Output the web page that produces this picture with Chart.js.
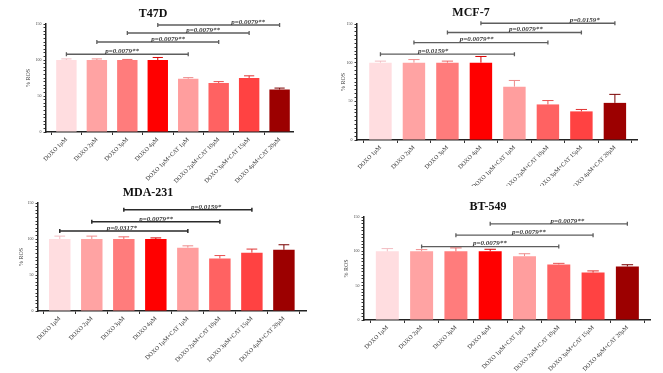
<!DOCTYPE html>
<html>
<head>
<meta charset="utf-8">
<script src="https://cdn.jsdelivr.net/npm/chart.js@4.4.1/dist/chart.umd.min.js"></script>
<style>
  body { margin: 0; background: #fff; width: 663px; height: 373px; overflow: hidden; position: relative; }
  canvas { position: absolute; }
</style>
</head>
<body>
<canvas id="t47d" width="331" height="186" style="left:0;top:0"></canvas>
<canvas id="mcf7" width="332" height="186" style="left:331px;top:0"></canvas>
<canvas id="mda231" width="331" height="187" style="left:0;top:186px"></canvas>
<canvas id="bt549" width="332" height="187" style="left:331px;top:186px"></canvas>
<script>
const categories = [
  "DOXO 1µM", "DOXO 2µM", "DOXO 3µM", "DOXO 4µM",
  "DOXO 1µM+CAT 1µM", "DOXO 2µM+CAT 10µM", "DOXO 3µM+CAT 15µM", "DOXO 4µM+CAT 20µM",
];
const yTicks = [0, 50, 100, 150];

// mean % ROS and SD per group
const t47dValues = [100, 100, 100, 100, 74, 68, 75, 59];
const t47dErrors = [1.5, 1.5, 0.8, 3.5, 1.5, 2, 3, 2];
const mcf7Values = [100, 100, 100, 100, 69, 46, 37, 48];
const mcf7Errors = [2, 4, 2, 8, 8, 5, 2.5, 11];
const mda231Values = [100, 100, 100, 100, 88, 73, 81, 85];
const mda231Errors = [4, 4, 3, 1.5, 2.5, 4, 5, 7];
const bt549Values = [100, 100, 100, 100, 93, 81, 69, 78];
const bt549Errors = [4, 2.5, 5, 3, 3.5, 1.5, 2.5, 2.5];

// significance brackets: [from, to, level, label position, text]
const t47dBrackets = [
  [0, 4, 108, 1.83, "p=0.0079**"],
  [1, 5, 125, 3.34, "p=0.0079**"],
  [2, 6, 137.5, 4.49, "p=0.0079**"],
  [3, 7, 148.6, 5.97, "p=0.0079**"],
];
const mcf7Brackets = [
  [0, 4, 111, 1.57, "p=0.0159*"],
  [1, 5, 126, 2.87, "p=0.0079**"],
  [2, 6, 139, 4.34, "p=0.0079**"],
  [3, 7, 151, 6.1, "p=0.0159*"],
];
const mda231Brackets = [
  [0, 4, 111, 1.94, "p=0.0317*"],
  [1, 5, 124, 3.01, "p=0.0079**"],
  [2, 6, 140.5, 4.57, "p=0.0159*"],
];
const bt549Brackets = [
  [1, 5, 107, 2.99, "p=0.0079**"],
  [2, 6, 123.5, 4.13, "p=0.0079**"],
  [3, 7, 140, 5.25, "p=0.0079**"],
];

const barColors = ["#FFDDE0", "#FFA3A3", "#FF7C7C", "#FF0000", "#FF9E9E", "#FF6262", "#FF4242", "#9C0000"];
const errorColors = ["#F2BCC2", "#F08C8C", "#EE6868", "#D80000", "#EE8A8A", "#E85050", "#E03232", "#7A0000"];

const SERIF = "'Liberation Serif', 'DejaVu Serif', serif";

const panels = [
  { id: "t47d", title: "T47D", titleX: 153, titleY: 14, values: t47dValues, errors: t47dErrors, brackets: t47dBrackets,
    pad: { left: 25, top: 24, right: 38, bottom: 0 }, yWidth: 21, xHeight: 54, xMin: -0.67, xMax: 7.44,
    lineColor: "#5e5e5e", lineWidth: 1.3 },
  { id: "mcf7", title: "MCF-7", titleX: 140, titleY: 13, values: mcf7Values, errors: mcf7Errors, brackets: mcf7Brackets,
    pad: { left: 9, top: 24, right: 26, bottom: 0 }, yWidth: 17, xHeight: 46, xMin: -0.7, xMax: 7.66,
    lineColor: "#5e5e5e", lineWidth: 1.3 },
  { id: "mda231", title: "MDA-231", titleX: 148, titleY: 7, values: mda231Values, errors: mda231Errors, brackets: mda231Brackets,
    pad: { left: 18, top: 17, right: 25, bottom: 0 }, yWidth: 20, xHeight: 62, xMin: -0.68, xMax: 7.69,
    lineColor: "#2a2a2a", lineWidth: 1.5 },
  { id: "bt549", title: "BT-549", titleX: 157, titleY: 21, values: bt549Values, errors: bt549Errors, brackets: bt549Brackets,
    pad: { left: 12, top: 31, right: 13, bottom: 0 }, yWidth: 21, xHeight: 53, xMin: -0.68, xMax: 7.66,
    lineColor: "#5e5e5e", lineWidth: 1.3 },
];

panels.forEach(renderPanel);

function renderPanel(panel) {
  const errorBars = {
    id: "errorBars",
    afterDatasetsDraw(chart) {
      const ctx = chart.ctx;
      const y = chart.scales.y;
      ctx.save();
      chart.getDatasetMeta(0).data.forEach((bar, i) => {
        const top = y.getPixelForValue(panel.values[i] + panel.errors[i]);
        const w = bar.width * 0.25;
        ctx.strokeStyle = errorColors[i];
        ctx.lineWidth = 1;
        ctx.beginPath();
        ctx.moveTo(bar.x, bar.y);
        ctx.lineTo(bar.x, top);
        ctx.moveTo(bar.x - w, top);
        ctx.lineTo(bar.x + w, top);
        ctx.stroke();
      });
      ctx.restore();
    },
  };

  const sigBars = {
    id: "sigBars",
    afterDraw(chart) {
      const ctx = chart.ctx;
      const x = chart.scales.x;
      const y = chart.scales.y;
      ctx.save();
      panel.brackets.forEach(([from, to, level, labelPos, text]) => {
        const x1 = x.getPixelForValue(from);
        const x2 = x.getPixelForValue(to);
        const yy = y.getPixelForValue(level);
        ctx.strokeStyle = panel.lineColor;
        ctx.lineWidth = panel.lineWidth;
        ctx.beginPath();
        ctx.moveTo(x1, yy);
        ctx.lineTo(x2, yy);
        ctx.moveTo(x1, yy - 2);
        ctx.lineTo(x1, yy + 2);
        ctx.moveTo(x2, yy - 2);
        ctx.lineTo(x2, yy + 2);
        ctx.stroke();
        ctx.fillStyle = "#3a3a3a";
        ctx.font = "italic bold 7px " + SERIF;
        ctx.textAlign = "center";
        ctx.textBaseline = "bottom";
        ctx.fillText(text, x.getPixelForValue(labelPos), yy + 0.5);
      });
      ctx.restore();
    },
  };

  const panelTitle = {
    id: "panelTitle",
    afterDraw(chart) {
      const ctx = chart.ctx;
      ctx.save();
      ctx.fillStyle = "#111";
      ctx.font = "bold 12px " + SERIF;
      ctx.textAlign = "center";
      ctx.textBaseline = "middle";
      ctx.fillText(panel.title, panel.titleX, panel.titleY);
      ctx.restore();
    },
  };

  new Chart(document.getElementById(panel.id), {
    type: "bar",
    data: {
      datasets: [{
        data: panel.values.map((v, i) => ({ x: i, y: v })),
        backgroundColor: barColors,
        borderWidth: 0,
        barPercentage: 0.67,
        categoryPercentage: 1,
      }],
    },
    plugins: [errorBars, sigBars, panelTitle],
    options: {
      responsive: false,
      animation: false,
      events: [],
      layout: { padding: panel.pad, autoPadding: false },
      plugins: { legend: { display: false }, tooltip: { enabled: false }, title: { display: false } },
      scales: {
        x: {
          type: "linear",
          min: panel.xMin,
          max: panel.xMax,
          offset: false,
          grid: { display: true, drawOnChartArea: false, tickLength: 3, color: "#333" },
          border: { display: true, color: "#222", width: 1.5 },
          ticks: {
            autoSkip: false, minRotation: 45, maxRotation: 45, padding: 1,
            color: "#333", font: { family: SERIF, size: 6 },
            callback: (v) => categories[v],
          },
          afterBuildTicks: (s) => { s.ticks = categories.map((c, i) => ({ value: i })); },
          afterFit: (s) => { s.height = panel.xHeight; s.paddingLeft = 0; s.paddingRight = 0; },
        },
        y: {
          min: 0, max: 150,
          grid: { display: true, drawOnChartArea: false, tickLength: 2.5, color: "#333" },
          border: { display: true, color: "#222", width: 1.5 },
          ticks: {
            stepSize: 5, maxTicksLimit: 40, autoSkip: false, padding: 2,
            color: "#444", font: { family: SERIF, size: 4 },
            callback: (v) => (yTicks.includes(v) ? v : ""),
          },
          title: { display: true, text: "% ROS", color: "#333", font: { family: SERIF, size: 6 }, padding: 0 },
          afterFit: (s) => { s.width = panel.yWidth; },
        },
      },
    },
  });
}
</script>
</body>
</html>
